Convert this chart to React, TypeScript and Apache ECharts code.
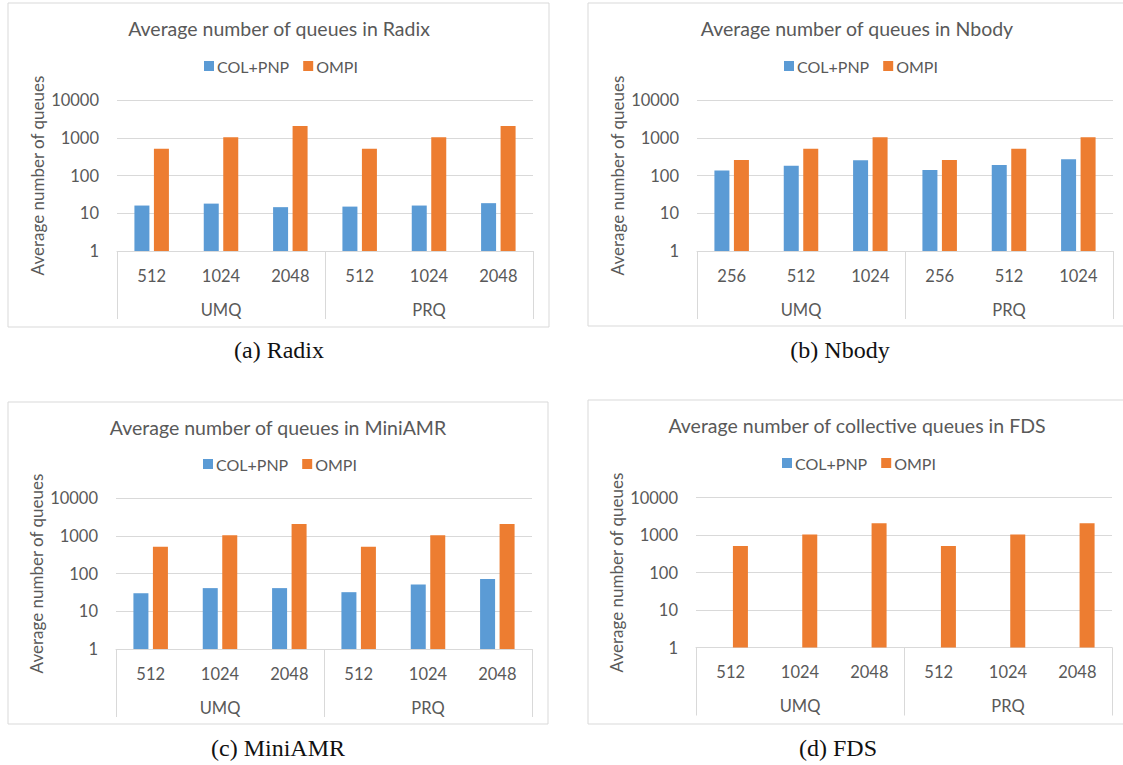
import React, { useEffect, useRef } from "react";
import * as echarts from "echarts";

const seriesNames = ["COL+PNP", "OMPI"];
const groups = ["UMQ", "PRQ"];
const yTicks = [1, 10, 100, 1000, 10000];

const radixCats = ["512", "1024", "2048", "512", "1024", "2048"];
const radixCol = [16, 18, 14.5, 15, 16, 18.5];
const radixOmpi = [512, 1024, 2048, 512, 1024, 2048];

const nbodyCats = ["256", "512", "1024", "256", "512", "1024"];
const nbodyCol = [135, 180, 255, 140, 190, 270];
const nbodyOmpi = [256, 512, 1024, 256, 512, 1024];

const amrCats = ["512", "1024", "2048", "512", "1024", "2048"];
const amrCol = [30, 41, 41, 32, 51, 72];
const amrOmpi = [512, 1024, 2048, 512, 1024, 2048];

const fdsCats = ["512", "1024", "2048", "512", "1024", "2048"];
const fdsCol = [null, null, null, null, null, null];
const fdsOmpi = [512, 1024, 2048, 512, 1024, 2048];

const titles = [
  "Average number of queues in Radix",
  "Average number of queues in Nbody",
  "Average number of queues in MiniAMR",
  "Average number of collective queues in FDS",
];
const captions = ["(a) Radix", "(b) Nbody", "(c) MiniAMR", "(d) FDS"];
const yName = "Average number of queues";

const BLUE = "#5B9BD5";
const ORANGE = "#ED7D31";
const TXT = "#595959";
const GRID = "#D9D9D9";
const FONT = "Lato";

const panels = [
  { cats: radixCats, col: radixCol, ompi: radixOmpi, box: [8, 3, 541, 324], grid: [117, 100, 416, 151], title: [279, 28], legend: [204, 58], caption: [279, 350] },
  { cats: nbodyCats, col: nbodyCol, ompi: nbodyOmpi, box: [588, 3, 540, 323], grid: [697, 100, 416, 151], title: [857, 28], legend: [784, 58], caption: [840, 350] },
  { cats: amrCats, col: amrCol, ompi: amrOmpi, box: [8, 402, 540, 322], grid: [116, 498, 416, 151], title: [278, 427], legend: [203, 456], caption: [278, 748] },
  { cats: fdsCats, col: fdsCol, ompi: fdsOmpi, box: [588, 400, 540, 324], grid: [696, 497.5, 416, 150], title: [857, 425], legend: [782, 455], caption: [838, 748] },
];

export default function App() {
  const ref = useRef<HTMLDivElement>(null);
  useEffect(() => {
    if (!ref.current) return;
    const chart = echarts.init(ref.current, null, { renderer: "svg" });
    const grid: any[] = [];
    const xAxis: any[] = [];
    const yAxis: any[] = [];
    const series: any[] = [];
    const legend: any[] = [];
    const graphic: any[] = [];
    panels.forEach((p, i) => {
      grid.push({ left: p.grid[0], top: p.grid[1], width: p.grid[2], height: p.grid[3], containLabel: false });
      xAxis.push({
        type: "category",
        gridIndex: i,
        data: p.cats,
        axisLine: { onZero: false, lineStyle: { color: GRID, width: 1 } },
        axisTick: { show: false },
        axisLabel: { color: TXT, fontSize: 16.5, fontFamily: FONT, margin: 16, interval: 0 },
      });
      xAxis.push({
        type: "category",
        gridIndex: i,
        position: "bottom",
        data: groups,
        axisLine: { show: false, onZero: false },
        axisTick: { show: true, length: 68, interval: 0, lineStyle: { color: GRID, width: 1 } },
        axisLabel: { color: TXT, fontSize: 16.5, fontFamily: FONT, margin: 50, interval: 0 },
      });
      yAxis.push({
        type: "log",
        logBase: 10,
        gridIndex: i,
        min: yTicks[0],
        max: yTicks[yTicks.length - 1],
        axisLine: { show: false },
        axisTick: { show: false },
        splitLine: { lineStyle: { color: GRID, width: 1 } },
        axisLabel: { color: TXT, fontSize: 16.5, fontFamily: FONT, margin: 18, formatter: (v: number) => String(Math.round(v)) },
        name: yName,
        nameLocation: "middle",
        nameGap: 71,
        nameTextStyle: { color: TXT, fontSize: 17, fontFamily: FONT },
      });
      series.push({
        type: "bar",
        name: seriesNames[0],
        xAxisIndex: 2 * i,
        yAxisIndex: i,
        data: p.col,
        barWidth: 15,
        barGap: "30%",
        itemStyle: { color: BLUE },
      });
      series.push({
        type: "bar",
        name: seriesNames[1],
        xAxisIndex: 2 * i,
        yAxisIndex: i,
        data: p.ompi,
        barWidth: 15,
        barGap: "30%",
        itemStyle: { color: ORANGE },
      });
      legend.push({
        data: seriesNames,
        left: p.legend[0],
        top: p.legend[1],
        padding: 0,
        icon: "rect",
        itemWidth: 10,
        itemHeight: 10,
        itemGap: 14,
        textStyle: { color: TXT, fontSize: 16, fontFamily: FONT, padding: [0, 0, 0, -2] },
      });
      graphic.push({
        type: "rect",
        shape: { x: p.box[0], y: p.box[1], width: p.box[2], height: p.box[3] },
        style: { fill: "none", stroke: GRID, lineWidth: 1 },
        silent: true,
        z: -1,
      });
      graphic.push({
        type: "text",
        x: p.title[0],
        y: p.title[1],
        style: { text: titles[i], fill: TXT, font: `19.5px ${FONT}`, textAlign: "center", textVerticalAlign: "middle" },
      });
      graphic.push({
        type: "text",
        x: p.caption[0],
        y: p.caption[1],
        style: { text: captions[i], fill: "#111", font: `24px "Liberation Serif", "Times New Roman", serif`, textAlign: "center", textVerticalAlign: "middle" },
      });
    });
    chart.setOption({
      animation: false,
      backgroundColor: "#fff",
      grid,
      xAxis,
      yAxis,
      series,
      legend,
      graphic,
    });
    return () => chart.dispose();
  }, []);
  return <div ref={ref} style={{ position: "fixed", left: 0, top: 0, width: 1123, height: 765 }} />;
}
